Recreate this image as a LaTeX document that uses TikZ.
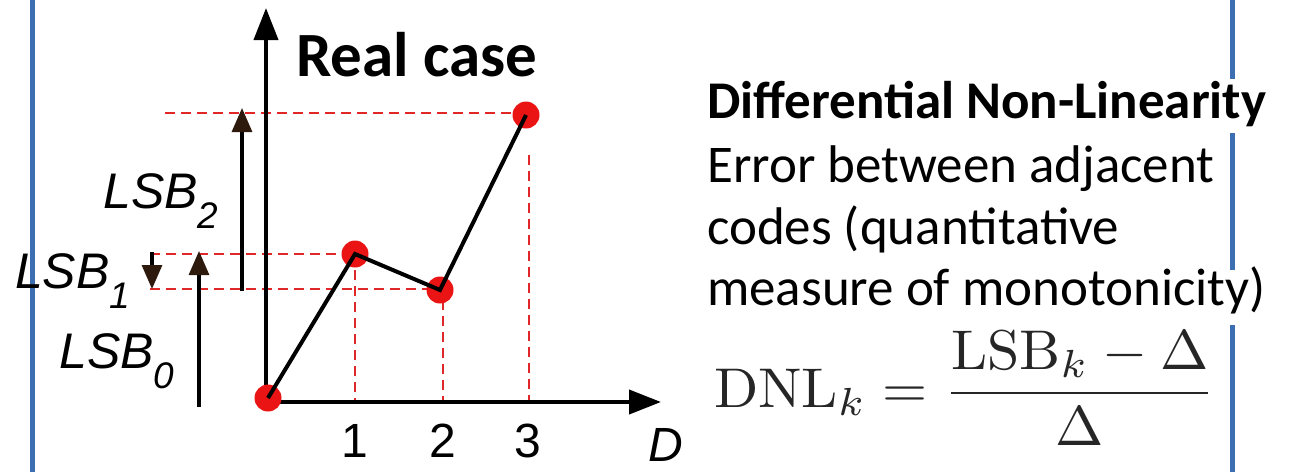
\documentclass[tikz,border=0pt]{standalone}
\usepackage[no-math]{fontspec}
\setmainfont{Carlito}
\newfontfamily\arialfont{Liberation Sans}
\usetikzlibrary{arrows.meta}
\definecolor{slideblue}{RGB}{61,110,178}
\definecolor{dotred}{RGB}{235,20,20}
\definecolor{dashred}{RGB}{225,40,40}
\definecolor{tipbrown}{RGB}{45,26,12}
\begin{document}
\begin{tikzpicture}[x=1pt,y=-1pt,
  frameline/.style={draw=slideblue,line width=5pt},
  axis/.style={line width=4pt,-{Triangle[length=32pt,width=24pt]}},
  curve/.style={line width=4pt,line join=miter},
  guide/.style={draw=dashred,line width=2pt,dash pattern=on 10pt off 6pt},
  dot/.style={circle,fill=dotred,minimum size=27pt,inner sep=0pt},
  lsbarrow/.style={line width=3.2pt,-{Triangle[length=24pt,width=20pt,fill=tipbrown,color=tipbrown]}},
  lsb/.style={font=\arialfont\itshape\fontsize{50}{50}\selectfont,inner sep=0pt,anchor=base west},
  tick/.style={font=\arialfont\fontsize{48}{48}\selectfont,inner sep=0pt,anchor=base},
  rtext/.style={font=\fontsize{53}{53}\selectfont,inner sep=0pt,anchor=base west},
  ]
\useasboundingbox (0,0) rectangle (1294,472);
% frame lines
\coordinate (bl1) at (32,0); \coordinate (bl2) at (32,472);
\coordinate (br1) at (1232,0); \coordinate (br2) at (1232,472);
\draw[frameline] (bl1) -- (bl2);
\draw[frameline] (br1) -- (br2);

% points
\coordinate (p0) at (268,398);
\coordinate (p1) at (355,254);
\coordinate (p2) at (440,290);
\coordinate (p3) at (526,115);

% dashed guides
\coordinate (h3) at (165,113);
\coordinate (h1) at (150,254);
\coordinate (h2) at (150,289);
\coordinate (v1) at (355,400);
\coordinate (v2t) at (443,300); \coordinate (v2) at (443,400);
\coordinate (v3t) at (529,155); \coordinate (v3) at (529,400);
\draw[guide] (h3) -- (p3 |- h3);
\draw[guide] (h1) -- (p1);
\draw[guide] (h2) -- (p2 |- h2);
\draw[guide] (p1) -- (v1);
\draw[guide] (v2t) -- (v2);
\draw[guide] (v3t) -- (v3);

% axes
\coordinate (o) at (266,402);
\coordinate (ytip) at (266,8);
\coordinate (xtip) at (661,402);
\draw[axis] (o |- 0,404) -- (ytip);
\draw[axis] (o) -- (xtip);

% dots and curve
\node[dot] (d0) at (p0) {};
\node[dot] (d1) at (p1) {};
\node[dot] (d2) at (p2) {};
\node[dot] (d3) at (p3) {};
\draw[curve] (d0.center) -- (d1.center) -- (d2.center) -- (d3.center);

% LSB arrows
\coordinate (a2s) at (242,291); \coordinate (a2e) at (242,108);
\coordinate (a0s) at (199,407); \coordinate (a0e) at (199,251);
\coordinate (a1s) at (152,252); \coordinate (a1e) at (152,289);
\draw[lsbarrow] (a2s) -- (a2e);
\draw[lsbarrow] (a0s) -- (a0e);
\draw[lsbarrow] (a1s) -- (a1e);

% LSB labels
\node[lsb] (lsb2) at (103,208) {LSB\raisebox{-20pt}{\fontsize{37}{37}\selectfont 2}};
\node[lsb] (lsb1) at (15,288) {LSB\raisebox{-20pt}{\fontsize{37}{37}\selectfont 1}};
\node[lsb] (lsb0) at (59,368) {LSB\raisebox{-20pt}{\fontsize{37}{37}\selectfont 0}};

% tick labels
\node[tick] (t1) at (355,457) {1};
\node[tick] (t2) at (443,457) {2};
\node[tick] (t3) at (528,457) {3};
\node[tick,font=\arialfont\itshape\fontsize{48}{48}\selectfont,anchor=base west] (dlab) at (648,461) {D};

% title
\node[inner sep=0pt,anchor=base west,font=\bfseries\fontsize{63}{63}\selectfont] (title) at (296,76) {Real case};

% formula
\node[inner sep=0pt,anchor=base west,xscale=5.8,yscale=5.6,text=black!85] (dnl) at (713,407)
  {$\displaystyle\mathrm{DNL}_k = \frac{\mathrm{LSB}_k - \Delta}{\Delta}$};

% right text
\node[rtext,fill=white,text height=39pt,text depth=15pt] (r1) at (707,118) {\bfseries Differential Non-Linearity};
\node[rtext] (r2) at (707,182) {Error between adjacent};
\node[rtext] (r3) at (707,244) {codes (quantitative};
\node[rtext,fill=white,text height=35pt,text depth=20pt] (r4) at (707,305) {measure of monotonicity)};
\end{tikzpicture}
\end{document}
